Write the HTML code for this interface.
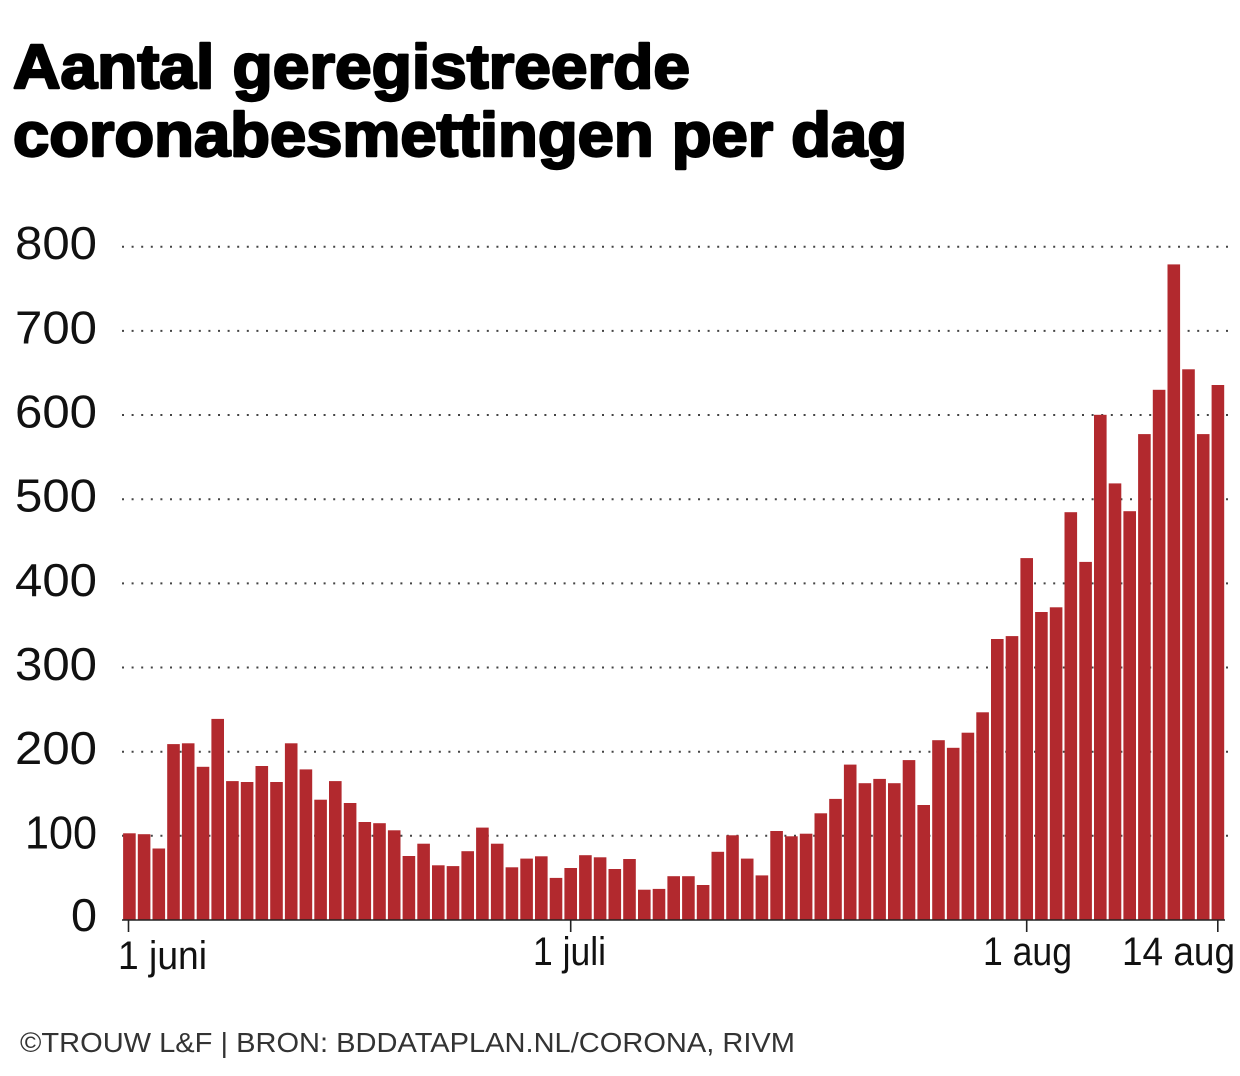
<!DOCTYPE html>
<html>
<head>
<meta charset="utf-8">
<style>
  html,body{margin:0;padding:0;background:#fff;}
  svg{display:block;}
</style>
</head>
<body>
<svg width="1240" height="1076" viewBox="0 0 1240 1076" xmlns="http://www.w3.org/2000/svg">
  <rect width="1240" height="1076" fill="#fff"/>
  <g font-family="'Liberation Sans', sans-serif" font-weight="bold" font-size="62" fill="#000" stroke="#000" stroke-width="2.4" stroke-linejoin="round">
    <text x="13" y="88" textLength="677" lengthAdjust="spacingAndGlyphs">Aantal geregistreerde</text>
    <text x="13" y="156" textLength="894" lengthAdjust="spacingAndGlyphs">coronabesmettingen per dag</text>
  </g>
  <g stroke="#444" stroke-width="2" stroke-dasharray="2 7.6" fill="none">
    <line x1="122" y1="835.8" x2="1230" y2="835.8"/>
    <line x1="122" y1="751.7" x2="1230" y2="751.7"/>
    <line x1="122" y1="667.5" x2="1230" y2="667.5"/>
    <line x1="122" y1="583.4" x2="1230" y2="583.4"/>
    <line x1="122" y1="499.2" x2="1230" y2="499.2"/>
    <line x1="122" y1="415.0" x2="1230" y2="415.0"/>
    <line x1="122" y1="330.9" x2="1230" y2="330.9"/>
    <line x1="122" y1="246.7" x2="1230" y2="246.7"/>
  </g>
  <g font-family="'Liberation Sans', sans-serif" font-size="46" fill="#111">
    <text x="71" y="931" textLength="26" lengthAdjust="spacingAndGlyphs">0</text>
    <text x="25" y="848.5" textLength="72" lengthAdjust="spacingAndGlyphs">100</text>
    <text x="15" y="764.2" textLength="82" lengthAdjust="spacingAndGlyphs">200</text>
    <text x="15" y="680" textLength="82" lengthAdjust="spacingAndGlyphs">300</text>
    <text x="15" y="595.9" textLength="82" lengthAdjust="spacingAndGlyphs">400</text>
    <text x="15" y="511.7" textLength="82" lengthAdjust="spacingAndGlyphs">500</text>
    <text x="15" y="427.5" textLength="82" lengthAdjust="spacingAndGlyphs">600</text>
    <text x="15" y="343.4" textLength="82" lengthAdjust="spacingAndGlyphs">700</text>
    <text x="15" y="259.2" textLength="82" lengthAdjust="spacingAndGlyphs">800</text>
  </g>
  <g fill="#b2292e">
    <rect x="123.1" y="833.3" width="12.6" height="86.7"/>
    <rect x="137.8" y="834.2" width="12.6" height="85.8"/>
    <rect x="152.5" y="848.5" width="12.6" height="71.5"/>
    <rect x="167.2" y="744.1" width="12.6" height="175.9"/>
    <rect x="181.9" y="743.3" width="12.6" height="176.7"/>
    <rect x="196.7" y="766.8" width="12.6" height="153.2"/>
    <rect x="211.4" y="718.9" width="12.6" height="201.1"/>
    <rect x="226.1" y="781.1" width="12.6" height="138.9"/>
    <rect x="240.8" y="782.0" width="12.6" height="138.0"/>
    <rect x="255.5" y="766.0" width="12.6" height="154.0"/>
    <rect x="270.2" y="782.0" width="12.6" height="138.0"/>
    <rect x="284.9" y="743.3" width="12.6" height="176.7"/>
    <rect x="299.6" y="769.4" width="12.6" height="150.6"/>
    <rect x="314.3" y="799.7" width="12.6" height="120.3"/>
    <rect x="329.0" y="781.1" width="12.6" height="138.9"/>
    <rect x="343.8" y="803.0" width="12.6" height="117.0"/>
    <rect x="358.5" y="822.0" width="12.6" height="98.0"/>
    <rect x="373.2" y="823.2" width="12.6" height="96.8"/>
    <rect x="387.9" y="830.3" width="12.6" height="89.7"/>
    <rect x="402.6" y="856.0" width="12.6" height="64.0"/>
    <rect x="417.3" y="843.7" width="12.6" height="76.3"/>
    <rect x="432.0" y="865.3" width="12.6" height="54.7"/>
    <rect x="446.7" y="866.1" width="12.6" height="53.9"/>
    <rect x="461.4" y="851.2" width="12.6" height="68.8"/>
    <rect x="476.1" y="827.6" width="12.6" height="92.4"/>
    <rect x="490.9" y="843.7" width="12.6" height="76.3"/>
    <rect x="505.6" y="867.3" width="12.6" height="52.7"/>
    <rect x="520.3" y="858.6" width="12.6" height="61.4"/>
    <rect x="535.0" y="856.3" width="12.6" height="63.7"/>
    <rect x="549.7" y="877.9" width="12.6" height="42.1"/>
    <rect x="564.4" y="868.0" width="12.6" height="52.0"/>
    <rect x="579.1" y="855.2" width="12.6" height="64.8"/>
    <rect x="593.8" y="857.3" width="12.6" height="62.7"/>
    <rect x="608.5" y="869.0" width="12.6" height="51.0"/>
    <rect x="623.2" y="859.0" width="12.6" height="61.0"/>
    <rect x="638.0" y="889.7" width="12.6" height="30.3"/>
    <rect x="652.7" y="888.9" width="12.6" height="31.1"/>
    <rect x="667.4" y="876.2" width="12.6" height="43.8"/>
    <rect x="682.1" y="876.2" width="12.6" height="43.8"/>
    <rect x="696.8" y="885.0" width="12.6" height="35.0"/>
    <rect x="711.5" y="851.8" width="12.6" height="68.2"/>
    <rect x="726.2" y="835.3" width="12.6" height="84.7"/>
    <rect x="740.9" y="858.6" width="12.6" height="61.4"/>
    <rect x="755.6" y="875.4" width="12.6" height="44.6"/>
    <rect x="770.3" y="831.0" width="12.6" height="89.0"/>
    <rect x="785.1" y="836.3" width="12.6" height="83.7"/>
    <rect x="799.8" y="833.7" width="12.6" height="86.3"/>
    <rect x="814.5" y="813.3" width="12.6" height="106.7"/>
    <rect x="829.2" y="798.9" width="12.6" height="121.1"/>
    <rect x="843.9" y="764.6" width="12.6" height="155.4"/>
    <rect x="858.6" y="783.2" width="12.6" height="136.8"/>
    <rect x="873.3" y="778.9" width="12.6" height="141.1"/>
    <rect x="888.0" y="783.2" width="12.6" height="136.8"/>
    <rect x="902.7" y="760.1" width="12.6" height="159.9"/>
    <rect x="917.4" y="805.0" width="12.6" height="115.0"/>
    <rect x="932.2" y="740.2" width="12.6" height="179.8"/>
    <rect x="946.9" y="747.8" width="12.6" height="172.2"/>
    <rect x="961.6" y="732.7" width="12.6" height="187.3"/>
    <rect x="976.3" y="712.3" width="12.6" height="207.7"/>
    <rect x="991.0" y="639.0" width="12.6" height="281.0"/>
    <rect x="1005.7" y="636.1" width="12.6" height="283.9"/>
    <rect x="1020.4" y="558.1" width="12.6" height="361.9"/>
    <rect x="1035.1" y="612.0" width="12.6" height="308.0"/>
    <rect x="1049.8" y="607.3" width="12.6" height="312.7"/>
    <rect x="1064.5" y="512.2" width="12.6" height="407.8"/>
    <rect x="1079.3" y="561.9" width="12.6" height="358.1"/>
    <rect x="1094.0" y="414.8" width="12.6" height="505.2"/>
    <rect x="1108.7" y="483.4" width="12.6" height="436.6"/>
    <rect x="1123.4" y="511.2" width="12.6" height="408.8"/>
    <rect x="1138.1" y="434.1" width="12.6" height="485.9"/>
    <rect x="1152.8" y="389.8" width="12.6" height="530.2"/>
    <rect x="1167.5" y="264.4" width="12.6" height="655.6"/>
    <rect x="1182.2" y="369.3" width="12.6" height="550.7"/>
    <rect x="1196.9" y="434.1" width="12.6" height="485.9"/>
    <rect x="1211.6" y="385.0" width="12.6" height="535.0"/>
  </g>
  <g stroke="#222" stroke-width="1.6">
    <line x1="122" y1="920" x2="1225" y2="920"/>
    <line x1="128.5" y1="920" x2="128.5" y2="932"/>
    <line x1="570.7" y1="920" x2="570.7" y2="932"/>
    <line x1="1026.7" y1="920" x2="1026.7" y2="932"/>
    <line x1="1217.8" y1="920" x2="1217.8" y2="932"/>
  </g>
  <g font-family="'Liberation Sans', sans-serif" font-size="40" fill="#111">
    <text x="118" y="969" textLength="89" lengthAdjust="spacingAndGlyphs">1 juni</text>
    <text x="533" y="965" textLength="73" lengthAdjust="spacingAndGlyphs">1 juli</text>
    <text x="983" y="965" textLength="89" lengthAdjust="spacingAndGlyphs">1 aug</text>
    <text x="1122" y="965" textLength="113" lengthAdjust="spacingAndGlyphs">14 aug</text>
  </g>
  <text x="20" y="1052" font-family="'Liberation Sans', sans-serif" font-size="28" fill="#333" textLength="775" lengthAdjust="spacingAndGlyphs">©TROUW L&amp;F | BRON: BDDATAPLAN.NL/CORONA, RIVM</text>
</svg>
</body>
</html>
